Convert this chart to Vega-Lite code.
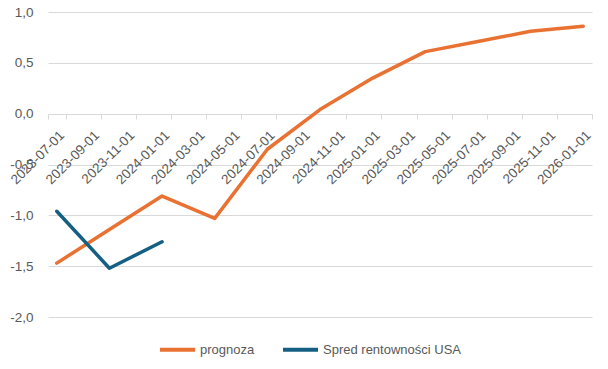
{
  "$schema": "https://vega.github.io/schema/vega-lite/v6.json",
  "width": 544,
  "height": 305,
  "autosize": {"type": "none"},
  "padding": {"left": 48, "top": 12, "right": 16, "bottom": 52},
  "background": "white",
  "config": {"view": {"stroke": null}, "font": "Liberation Sans"},
  "data": {
    "values": [
      {"month": "2023-07-01", "series": "prognoza", "value": -1.47},
      {"month": "2023-10-01", "series": "prognoza", "value": -1.14},
      {"month": "2024-01-01", "series": "prognoza", "value": -0.81},
      {"month": "2024-04-01", "series": "prognoza", "value": -1.03},
      {"month": "2024-07-01", "series": "prognoza", "value": -0.35},
      {"month": "2024-10-01", "series": "prognoza", "value": 0.04},
      {"month": "2025-01-01", "series": "prognoza", "value": 0.35},
      {"month": "2025-04-01", "series": "prognoza", "value": 0.61},
      {"month": "2025-07-01", "series": "prognoza", "value": 0.71},
      {"month": "2025-10-01", "series": "prognoza", "value": 0.81},
      {"month": "2026-01-01", "series": "prognoza", "value": 0.86},
      {"month": "2023-07-01", "series": "Spred rentowności USA", "value": -0.96},
      {"month": "2023-10-01", "series": "Spred rentowności USA", "value": -1.52},
      {"month": "2024-01-01", "series": "Spred rentowności USA", "value": -1.26}
    ]
  },
  "mark": {"type": "line", "strokeWidth": 3.5, "strokeJoin": "round", "strokeCap": "round"},
  "encoding": {
    "x": {
      "field": "month",
      "type": "ordinal",
      "scale": {
        "type": "band",
        "paddingInner": 0,
        "paddingOuter": 0,
        "domain": ["2023-07-01","2023-08-01","2023-09-01","2023-10-01","2023-11-01","2023-12-01",
                   "2024-01-01","2024-02-01","2024-03-01","2024-04-01","2024-05-01","2024-06-01",
                   "2024-07-01","2024-08-01","2024-09-01","2024-10-01","2024-11-01","2024-12-01",
                   "2025-01-01","2025-02-01","2025-03-01","2025-04-01","2025-05-01","2025-06-01",
                   "2025-07-01","2025-08-01","2025-09-01","2025-10-01","2025-11-01","2025-12-01",
                   "2026-01-01"]
      },
      "axis": {
        "orient": "bottom",
        "offset": -203,
        "title": null,
        "values": ["2023-07-01","2023-09-01","2023-11-01","2024-01-01","2024-03-01","2024-05-01",
                   "2024-07-01","2024-09-01","2024-11-01","2025-01-01","2025-03-01","2025-05-01",
                   "2025-07-01","2025-09-01","2025-11-01","2026-01-01"],
        "labelAngle": -45,
        "labelAlign": "right",
        "labelBaseline": "top",
        "labelPadding": 9,
        "labelDx": -5,
        "labelOverlap": false,
        "labelColor": "#595959",
        "labelFontSize": 13.5,
        "tickBand": "extent",
        "tickExtra": false,
        "tickSize": 5,
        "tickColor": "#d9d9d9",
        "domainColor": "#d9d9d9",
        "grid": false
      }
    },
    "y": {
      "field": "value",
      "type": "quantitative",
      "scale": {"domain": [-2, 1], "nice": false, "zero": false},
      "axis": {
        "title": null,
        "values": [-2, -1.5, -1, -0.5, 0, 0.5, 1],
        "labelExpr": "replace(replace(format(datum.value, '.1f'), '.', ','), '\u2212', '-')",
        "domain": false,
        "ticks": false,
        "grid": true,
        "gridColor": "#d9d9d9",
        "labelPadding": 15,
        "labelColor": "#595959",
        "labelFontSize": 13.5
      }
    },
    "color": {
      "field": "series",
      "type": "nominal",
      "scale": {"domain": ["prognoza", "Spred rentowności USA"], "range": ["#E97132", "#156082"]},
      "legend": {
        "orient": "none",
        "legendX": 110,
        "legendY": 318,
        "direction": "horizontal",
        "title": null,
        "symbolType": "stroke",
        "symbolSize": 1225,
        "symbolStrokeWidth": 4,
        "labelFontSize": 13,
        "labelColor": "#595959",
        "labelOffset": 3,
        "columnPadding": 20
      }
    }
  }
}
